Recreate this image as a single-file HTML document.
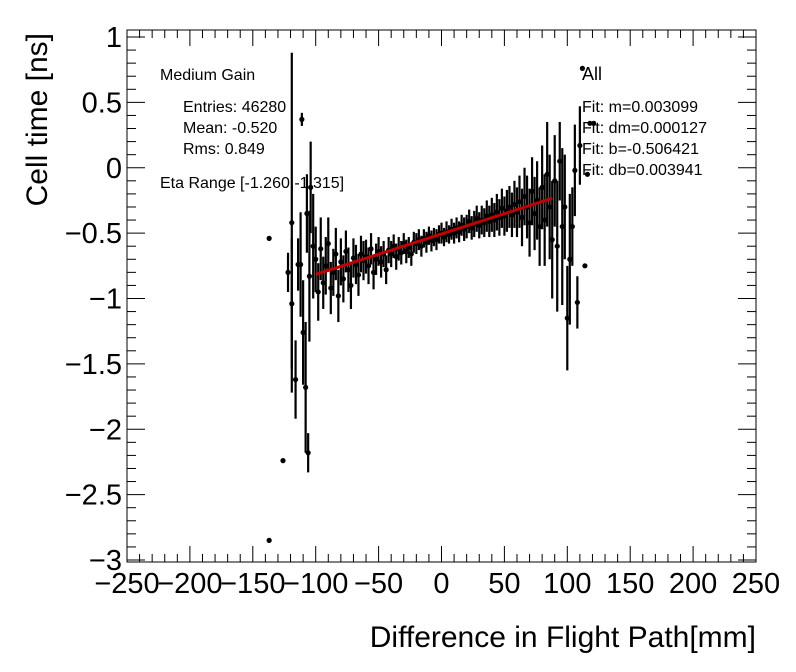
<!DOCTYPE html>
<html><head><meta charset="utf-8"><style>
body{margin:0;background:#fff;}
svg{display:block;font-family:"Liberation Sans",Arial,sans-serif;}
</style></head><body>
<svg id="c" width="796" height="672"></svg>
<script>
const xsDense=[-100,-98,-96,-94,-92,-90,-88,-86,-84,-82,-80,-78,-76,-74,-72,-70,-68,-66,-64,-62,-60,-58,-56,-54,-52,-50,-48,-46,-44,-42,-40,-38,-36,-34,-32,-30,-28,-26,-24,-22,-20,-18,-16,-14,-12,-10,-8,-6,-4,-2,0,2,4,6,8,10,12,14,16,18,20,22,24,26,28,30,32,34,36,38,40,42,44,46,48,50,52,54,56,58,60,62,64,66,68,70,72,74,76,78,80,82,84,86,88];
const ysDense=[-0.70,-0.95,-0.62,-0.88,-0.75,-0.58,-0.92,-0.80,-0.66,-0.98,-0.72,-0.85,-0.64,-0.78,-0.90,-0.69,-0.74,-0.82,-0.66,-0.71,-0.68,-0.75,-0.62,-0.80,-0.70,-0.64,-0.72,-0.66,-0.78,-0.63,-0.66,-0.60,-0.68,-0.62,-0.65,-0.58,-0.64,-0.61,-0.66,-0.57,-0.58,-0.55,-0.60,-0.54,-0.57,-0.52,-0.56,-0.53,-0.55,-0.51,-0.50,-0.53,-0.49,-0.51,-0.47,-0.50,-0.46,-0.49,-0.44,-0.47,-0.45,-0.41,-0.46,-0.43,-0.39,-0.44,-0.40,-0.42,-0.37,-0.41,-0.36,-0.40,-0.34,-0.38,-0.31,-0.37,-0.33,-0.30,-0.36,-0.28,-0.34,-0.26,-0.38,-0.22,-0.30,-0.42,-0.18,-0.35,-0.25,-0.45,-0.15,-0.40,-0.05,-0.30,-0.55];
const errDense=[0.25,0.22,0.24,0.2,0.22,0.2,0.2,0.18,0.2,0.2,0.18,0.18,0.16,0.17,0.18,0.15,0.15,0.16,0.14,0.15,0.13,0.14,0.12,0.13,0.12,0.11,0.12,0.1,0.11,0.1,0.1,0.09,0.1,0.09,0.09,0.08,0.09,0.08,0.09,0.08,0.08,0.08,0.08,0.07,0.08,0.07,0.08,0.07,0.08,0.07,0.08,0.07,0.08,0.07,0.08,0.08,0.08,0.08,0.08,0.09,0.09,0.09,0.09,0.1,0.1,0.1,0.11,0.11,0.12,0.12,0.13,0.13,0.14,0.14,0.15,0.15,0.16,0.16,0.17,0.18,0.19,0.2,0.22,0.22,0.24,0.26,0.26,0.28,0.3,0.3,0.32,0.35,0.4,0.4,0.45];
const xsSparse=[-137,-137,-126,-122,-119,-119,-116,-114,-112,-111,-110,-108,-107,-106,-105,-104,-102,90,92,94,96,98,100,102,104,106,108,110,112,114,116,118,121];
const ysSparse=[-2.85,-0.54,-2.24,-0.80,-0.42,-1.04,-1.62,-0.74,-0.74,0.37,-1.26,-1.68,-0.35,-2.18,-0.83,-0.15,-0.6,-0.1,-0.6,0.05,-0.45,-0.3,-1.15,-0.7,-0.45,-0.02,-1.03,0.17,0.76,-0.75,-0.05,0.34,0.34];
const errSparse=[0,0,0,0.15,1.3,0.5,0.3,0.2,0.4,0.05,0.4,0.5,0.3,0.15,0.5,0.35,0.4,0.35,0.5,0.3,0.6,0.4,0.4,0.5,0.3,0.35,0.2,0.3,0,0,0,0,0];
const fitM=0.003099, fitB=-0.506421, fitRange=[-100,88];
const xTicks=[-250,-200,-150,-100,-50,0,50,100,150,200,250];
const yTicks=[1,0.5,0,-0.5,-1,-1.5,-2,-2.5,-3];

const L=127,R=756,T=30,B=562;
const X=v=>441.5+v*1.258;
const Y=v=>37+(1-v)*130.75;
const s=document.getElementById('c');
const NS='http://www.w3.org/2000/svg';
function mk(t,a,p){const e=document.createElementNS(NS,t);for(const k in a)e.setAttribute(k,a[k]);(p||s).appendChild(e);return e;}
const frame=mk('rect',{x:L,y:T,width:R-L,height:B-T,fill:'none',stroke:'#000','stroke-width':1});


for(let v=-250;v<=250;v+=10){const maj=v%50===0;const h=maj?16:8;const x=X(v);
 mk('line',{x1:x,y1:B,x2:x,y2:B-h,stroke:'#000'});mk('line',{x1:x,y1:T,x2:x,y2:T+h,stroke:'#000'});}
for(let v=-3;v<=1.0001;v+=0.1){const r=Math.round(v*10);const maj=r%5===0;const w=maj?18:9;const y=Y(v);
 mk('line',{x1:L,y1:y,x2:L+w,y2:y,stroke:'#000'});mk('line',{x1:R,y1:y,x2:R-w,y2:y,stroke:'#000'});}
xTicks.forEach(v=>{const t=mk('text',{x:X(v),y:593,'font-size':29,'text-anchor':'middle'});t.textContent=String(v).replace('-','\u2212');
 
 });
yTicks.forEach(v=>{const t=mk('text',{x:122,y:Y(v)+10,'font-size':29,'text-anchor':'end'});t.textContent=String(v).replace('-','\u2212');
 
 });
let t=mk('text',{x:756,y:647,'font-size':30,'text-anchor':'end'});t.textContent='Difference in Flight Path[mm]';


t=mk('text',{x:0,y:0,'font-size':30,'text-anchor':'end',transform:'translate(47,33) rotate(-90)'});t.textContent='Cell time [ns]';


function pt(x,y,e){const g=mk('g',{});
 
 
 if(e>0)mk('line',{x1:X(x),x2:X(x),y1:Y(y+e),y2:Y(y-e),stroke:'#000','stroke-width':2.2},g);
 mk('circle',{cx:X(x),cy:Y(y),r:2.6,fill:'#000'},g);}
xsDense.forEach((x,i)=>pt(x,ysDense[i],errDense[i]));
xsSparse.forEach((x,i)=>pt(x,ysSparse[i],errSparse[i]));
const fl=mk('line',{x1:X(fitRange[0]),y1:Y(fitM*fitRange[0]+fitB),x2:X(fitRange[1]),y2:Y(fitM*fitRange[1]+fitB),stroke:'#c00000','stroke-width':3});


const labels=[[160,80,'Medium Gain'],[183,112,'Entries: 46280'],[183,133,'Mean: -0.520'],[183,154,'Rms: 0.849'],[160,188,'Eta Range [-1.260,-1.315]'],[582,80,'All'],[582,112,'Fit: m=0.003099'],[582,133,'Fit: dm=0.000127'],[582,154,'Fit: b=-0.506421'],[582,175,'Fit: db=0.003941']];
labels.forEach(l=>{const e=mk('text',{x:l[0],y:l[1],'font-size':l[2]==='All'?18:16});e.textContent=l[2];
 
 });
</script>
</body></html>
